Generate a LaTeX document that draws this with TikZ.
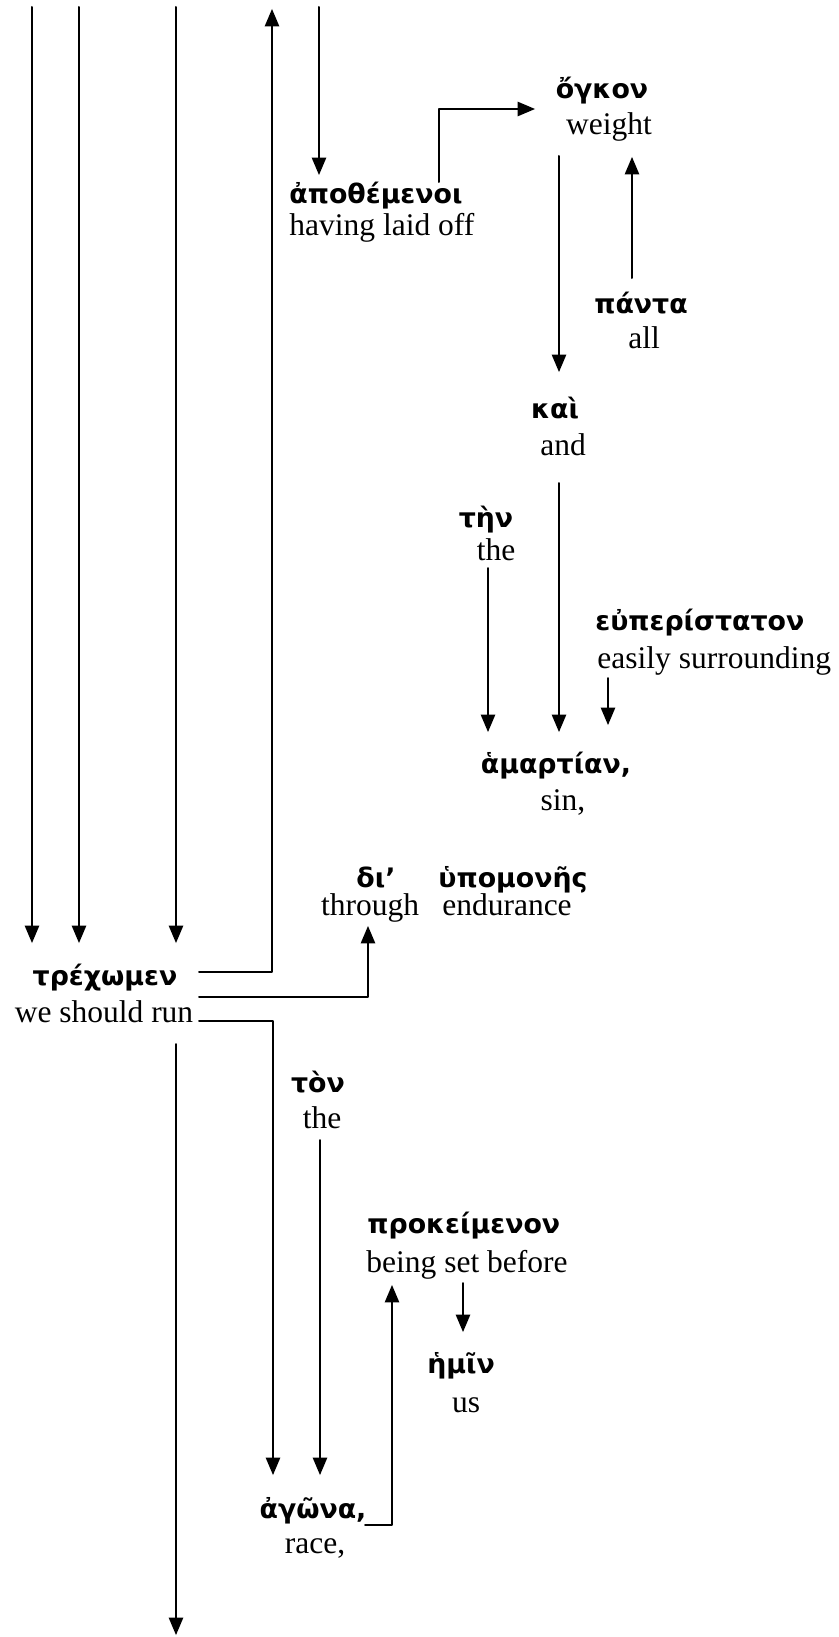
\documentclass[tikz,border=0pt]{standalone}
\usepackage{fontspec}
\setmainfont{Liberation Serif}
\newfontfamily\greekfont{DejaVu Sans}
\usetikzlibrary{arrows}

\begin{document}
\begin{tikzpicture}[line cap=round,line join=round,>=triangle 45,x=0.5pt,y=-0.5pt,
    greek/.style={anchor=base,inner sep=0pt,font=\greekfont\bfseries\fontsize{13.4}{15}\selectfont},
    gloss/.style={anchor=base,inner sep=0pt,font=\fontsize{15.75}{18}\selectfont}]
\useasboundingbox (0,0) rectangle (839,1637);
% words, greek over english
\node [greek,anchor=base west] (apothemenoi) at (289,204) {ἀποθέμενοι};
\node [gloss,anchor=base west] (apothemenoi-en) at (289,235) {having laid off};
\node [greek] (ogkon) at (602,99) {ὄγκον};
\node [gloss] (ogkon-en) at (609,135) {weight};
\node [greek] (panta) at (641,313) {πάντα};
\node [gloss] (panta-en) at (644,348) {all};
\node [greek] (kai) at (555,418) {καὶ};
\node [gloss] (kai-en) at (563,455) {and};
\node [greek] (ten) at (486,527) {τὴν};
\node [gloss] (ten-en) at (496,560) {the};
\node [greek,anchor=base west] (euperistaton) at (595,630) {εὐπερίστατον};
\node [gloss,anchor=base west] (euperistaton-en) at (597,668) {easily surrounding};
\node [greek] (hamartian) at (556,773) {ἁμαρτίαν,};
\node [gloss] (hamartian-en) at (563,810) {sin,};
\node [greek] (di) at (376,887) {δι’};
\node [gloss] (di-en) at (370,915) {through};
\node [greek] (hupomones) at (513,887) {ὑπομονῆς};
\node [gloss] (hupomones-en) at (507,915) {endurance};
\node [greek] (trechomen) at (105,985) {τρέχωμεν};
\node [gloss] (trechomen-en) at (104,1022) {we should run};
\node [greek] (ton) at (318,1092) {τὸν};
\node [gloss] (ton-en) at (322,1128) {the};
\node [greek,anchor=base west] (prokeimenon) at (367,1233) {προκείμενον};
\node [gloss,anchor=base west] (prokeimenon-en) at (366,1272) {being set before};
\node [greek] (hemin) at (461,1373) {ἡμῖν};
\node [gloss] (hemin-en) at (466,1412) {us};
\node [greek] (agona) at (313,1518) {ἀγῶνα,};
\node [gloss] (agona-en) at (315,1553) {race,};
% connector ends
\coordinate (top1) at (32,7);
\coordinate (top2) at (79,7);
\coordinate (top3) at (176,7);
\coordinate (top4) at (272,9);
\coordinate (top5) at (319,7);
\coordinate (run1) at (32,943);
\coordinate (run2) at (79,943);
\coordinate (run3) at (176,943);
\coordinate (runout1) at (199,972);
\coordinate (runout2) at (199,997);
\coordinate (runout3) at (199,1021);
\coordinate (runout4) at (176,1044);
\coordinate (bottom) at (176,1635);
\coordinate (apo-in) at (319,175);
\coordinate (apo-out) at (439,182);
\coordinate (ogkon-in) at (535,109);
\coordinate (ogkon-out) at (559,156);
\coordinate (ogkon-in2) at (632,157);
\coordinate (panta-out) at (632,278);
\coordinate (kai-in) at (559,372);
\coordinate (kai-out) at (559,483);
\coordinate (ten-out) at (488,568);
\coordinate (eup-out) at (608,678);
\coordinate (ham-in1) at (488,732);
\coordinate (ham-in2) at (559,732);
\coordinate (ham-in3) at (608,725);
\coordinate (through-in) at (368,926);
\coordinate (ton-out) at (320,1140);
\coordinate (agona-in1) at (273,1475);
\coordinate (agona-in2) at (320,1475);
\coordinate (agona-out) at (365,1525);
\coordinate (prok-in) at (392,1285);
\coordinate (prok-out) at (463,1283);
\coordinate (hemin-in) at (463,1332);
% lines
\draw [line width=1pt,->] (top1)-- (run1);
\draw [line width=1pt,->] (top2)-- (run2);
\draw [line width=1pt,->] (top3)-- (run3);
\draw [line width=1pt,->] (runout1)-| (top4);
\draw [line width=1pt,->] (top5)-- (apo-in);
\draw [line width=1pt,->] (apo-out)|- (ogkon-in);
\draw [line width=1pt,->] (ogkon-out)-- (kai-in);
\draw [line width=1pt,->] (panta-out)-- (ogkon-in2);
\draw [line width=1pt,->] (kai-out)-- (ham-in2);
\draw [line width=1pt,->] (ten-out)-- (ham-in1);
\draw [line width=1pt,->] (eup-out)-- (ham-in3);
\draw [line width=1pt,->] (runout2)-| (through-in);
\draw [line width=1pt,->] (runout3)-| (agona-in1);
\draw [line width=1pt,->] (runout4)-- (bottom);
\draw [line width=1pt,->] (ton-out)-- (agona-in2);
\draw [line width=1pt,->] (agona-out)-| (prok-in);
\draw [line width=1pt,->] (prok-out)-- (hemin-in);
\end{tikzpicture}
\end{document}
